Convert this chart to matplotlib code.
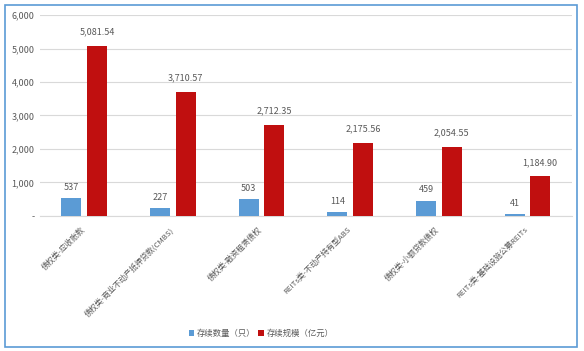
import numpy as np
import matplotlib.pyplot as plt
from matplotlib.patches import Rectangle
from matplotlib.ticker import FuncFormatter

plt.rcParams['font.family'] = ['Noto Sans CJK SC', 'DejaVu Sans']

categories = ['债权类-应收账款', '债权类-商业不动产抵押贷款(CMBS)', '债权类-融资租赁债权',
              'REITs类-不动产持有型ABS', '债权类-小额贷款债权', 'REITs类-基础设施公募REITs']
counts = [537, 227, 503, 114, 459, 41]
scales = [5081.54, 3710.57, 2712.35, 2175.56, 2054.55, 1184.90]

blue = '#5B9BD5'
red = '#C00F0F'
text_col = '#595959'

fig = plt.figure(figsize=(5.84, 3.51), dpi=100)
ax = fig.add_axes([0.0685, 0.385, 0.9105, 0.572])

x = np.arange(len(categories))
w = 0.225
off = 0.145
b1 = ax.bar(x - off, counts, w, color=blue, label='存续数量（只）', zorder=3)
b2 = ax.bar(x + off, scales, w, color=red, label='存续规模（亿元）', zorder=3)

for xi, v in zip(x, counts):
    ax.text(xi - off, v + 180, f'{v:,}', ha='center', va='bottom', fontsize=6.5, color=text_col)
for xi, v in zip(x, scales):
    ax.text(xi + off, v + 280, f'{v:,.2f}', ha='center', va='bottom', fontsize=6.5, color=text_col)

ax.set_xlim(-0.5, len(categories) - 0.5)
ax.set_ylim(0, 6000)
ax.set_yticks(np.arange(0, 6001, 1000))
ax.yaxis.set_major_formatter(FuncFormatter(lambda v, p: '-' if v == 0 else f'{int(v):,}'))
ax.grid(axis='y', color='#D9D9D9', linewidth=0.8, zorder=0)
for s in ['top', 'right', 'left']:
    ax.spines[s].set_visible(False)
ax.spines['bottom'].set_color('#D9D9D9')
ax.tick_params(axis='y', length=0, labelsize=6.5, labelcolor=text_col, pad=4)
ax.tick_params(axis='x', length=0, pad=7)
ax.set_xticks(x - 0.04)
ax.set_xticklabels(categories, rotation=45, ha='right', rotation_mode='anchor',
                   fontsize=5.6, color=text_col)

fig.legend(handles=[b1, b2], loc='center', bbox_to_anchor=(0.447, 0.051), ncol=2,
           frameon=False, fontsize=6, handlelength=0.7, handleheight=0.7,
           handletextpad=0.3, columnspacing=0.3, labelcolor=text_col)

fig.patches.append(Rectangle((0.009, 0.012), 0.979, 0.975, transform=fig.transFigure,
                             fill=False, edgecolor=blue, linewidth=1.2))

fig.savefig('out.png', dpi=100)
